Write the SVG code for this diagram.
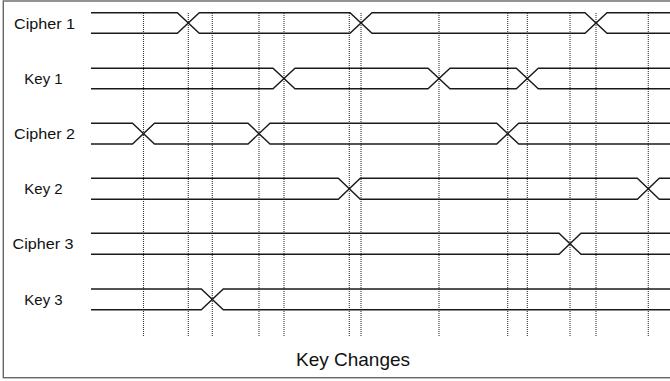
<svg xmlns="http://www.w3.org/2000/svg" width="670" height="381" viewBox="0 0 670 381">
<style>
.sig{fill:none;stroke:#1a1a1a;stroke-width:1.4;stroke-linejoin:miter}
.grid{stroke:#333;stroke-width:1.1;stroke-dasharray:1 1;fill:none}
.lbl{font-family:"Liberation Sans",Arial,sans-serif;font-size:15px;fill:#111;text-anchor:middle}
.title{font-family:"Liberation Sans",Arial,sans-serif;font-size:19px;fill:#111;text-anchor:middle}
</style>
<rect x="3.3" y="1" width="680" height="376.7" fill="#fff" stroke="#666" stroke-width="1.4"/>
<g id="connectors">
<line class="grid" x1="143.5" y1="13" x2="143.5" y2="336"/>
<line class="grid" x1="188.3" y1="13" x2="188.3" y2="336"/>
<line class="grid" x1="212.3" y1="13" x2="212.3" y2="336"/>
<line class="grid" x1="259" y1="13" x2="259" y2="336"/>
<line class="grid" x1="284" y1="13" x2="284" y2="336"/>
<line class="grid" x1="349.3" y1="13" x2="349.3" y2="336"/>
<line class="grid" x1="361" y1="13" x2="361" y2="336"/>
<line class="grid" x1="439" y1="13" x2="439" y2="336"/>
<line class="grid" x1="507.7" y1="13" x2="507.7" y2="336"/>
<line class="grid" x1="527.3" y1="13" x2="527.3" y2="336"/>
<line class="grid" x1="570" y1="13" x2="570" y2="336"/>
<line class="grid" x1="596" y1="13" x2="596" y2="336"/>
<line class="grid" x1="648.3" y1="13" x2="648.3" y2="336"/>
</g>
<g id="cipher1">
<text class="lbl" x="44.5" y="28.5" textLength="61" lengthAdjust="spacingAndGlyphs">Cipher 1</text>
<path class="sig" d="M91 12.7 H177.3 L199.3 33.3 H350 L372 12.7 H585 L607 33.3 H670"/>
<path class="sig" d="M91 33.3 H177.3 L199.3 12.7 H350 L372 33.3 H585 L607 12.7 H670"/>
</g>
<g id="key1">
<text class="lbl" x="43.5" y="84">Key 1</text>
<path class="sig" d="M91 68.3 H273 L295 88.7 H428 L450 68.3 H516.3 L538.3 88.7 H670"/>
<path class="sig" d="M91 88.7 H273 L295 68.3 H428 L450 88.7 H516.3 L538.3 68.3 H670"/>
</g>
<g id="cipher2">
<text class="lbl" x="44.5" y="139.2" textLength="61" lengthAdjust="spacingAndGlyphs">Cipher 2</text>
<path class="sig" d="M91 123.3 H132.5 L154.5 144 H248 L270 123.3 H496.7 L518.7 144 H670"/>
<path class="sig" d="M91 144 H132.5 L154.5 123.3 H248 L270 144 H496.7 L518.7 123.3 H670"/>
</g>
<g id="key2">
<text class="lbl" x="43.5" y="194.3">Key 2</text>
<path class="sig" d="M91 178.3 H338.3 L360.3 199.3 H637.3 L659.3 178.3 H670"/>
<path class="sig" d="M91 199.3 H338.3 L360.3 178.3 H637.3 L659.3 199.3 H670"/>
</g>
<g id="cipher3">
<text class="lbl" x="43" y="249.3" textLength="61" lengthAdjust="spacingAndGlyphs">Cipher 3</text>
<path class="sig" d="M91 233.3 H559 L581 254.3 H670"/>
<path class="sig" d="M91 254.3 H559 L581 233.3 H670"/>
</g>
<g id="key3">
<text class="lbl" x="43.5" y="304.8">Key 3</text>
<path class="sig" d="M91 289 H201.3 L223.3 309.7 H670"/>
<path class="sig" d="M91 309.7 H201.3 L223.3 289 H670"/>
</g>
<g id="caption">
<text class="title" x="353" y="366">Key Changes</text>
</g>
</svg>
